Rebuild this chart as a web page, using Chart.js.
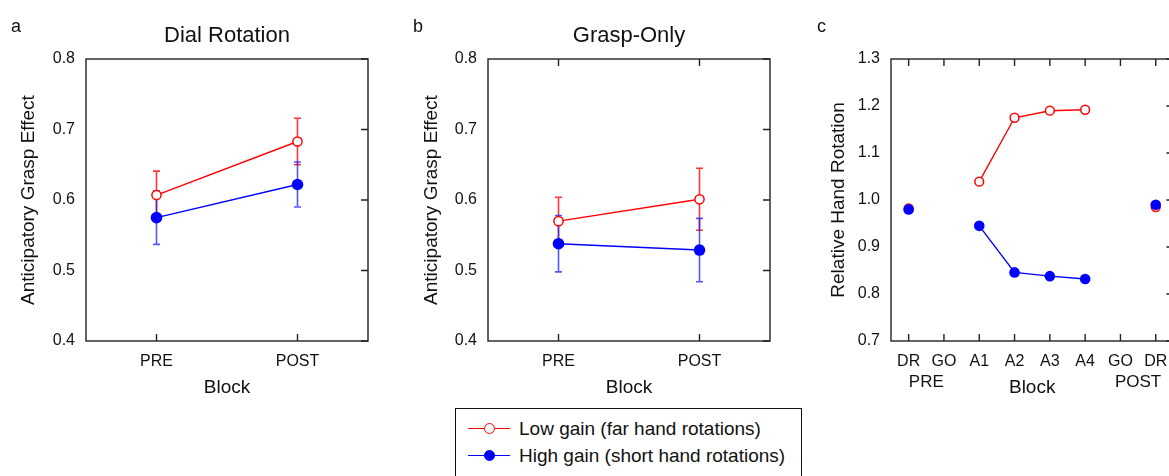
<!DOCTYPE html>
<html>
<head>
<meta charset="utf-8">
<script src="https://cdn.jsdelivr.net/npm/chart.js@4.4.1/dist/chart.umd.min.js"></script>
<style>
  html, body { margin: 0; padding: 0; background: #fff; }
  body { width: 1169px; height: 476px; overflow: hidden; position: relative;
         font-family: "Liberation Sans", Arial, sans-serif; color: #111; }
  canvas { position: absolute; top: 0; }
  #legend { position: absolute; left: 455px; top: 408px; width: 347px; height: 90px;
            border: 1.3px solid #111; background: #fff; box-sizing: border-box; }
  #legend .row { position: absolute; left: 0; height: 27px; line-height: 27px; font-size: 19px; white-space: nowrap; }
  #legend .sym { position: absolute; left: 12px; top: 0; width: 42px; height: 27px; }
  #legend .sym .ln { position: absolute; left: 0; right: 0; top: 13px; height: 1.4px; }
  #legend .sym .pt { position: absolute; border-radius: 50%; box-sizing: border-box; }
  #legend .txt { position: absolute; left: 63px; top: 0; }
</style>
</head>
<body>
<canvas id="chartA" width="400" height="410" style="left:0px"></canvas>
<canvas id="chartB" width="400" height="410" style="left:400px"></canvas>
<canvas id="chartC" width="400" height="410" style="left:810px"></canvas>
<div id="legend"></div>
<script>
// ---- data ----
const seriesNames = ['Low gain (far hand rotations)', 'High gain (short hand rotations)'];

const blocksAB = ['PRE', 'POST'];
const ticksAB = [0.4, 0.5, 0.6, 0.7, 0.8];

// panel a: Dial Rotation (mean, +/- error)
const dialLow = [0.607, 0.683];
const dialLowErr = [0.034, 0.033];
const dialHigh = [0.575, 0.622];
const dialHighErr = [0.038, 0.032];

// panel b: Grasp-Only
const graspLow = [0.570, 0.601];
const graspLowErr = [0.034, 0.044];
const graspHigh = [0.538, 0.529];
const graspHighErr = [0.040, 0.045];

// panel c: relative hand rotation per block
const blocksC = ['DR', 'GO', 'A1', 'A2', 'A3', 'A4', 'GO', 'DR'];
const blockGroups = ['PRE', 'POST'];
const blockGroupSpans = [[0, 1], [6, 7]];
const ticksC = [0.7, 0.8, 0.9, 1.0, 1.1, 1.2, 1.3];
const rotLow = [0.982, null, 1.039, 1.175, 1.190, 1.192, null, 0.985];
const rotHigh = [0.980, null, 0.945, 0.846, 0.838, 0.832, null, 0.990];

const RED = '#ff0000';
const BLUE = '#0000ff';
const INK = '#111';

// error bars, drawn under the points
const errorBars = {
    id: 'errorBars',
    beforeDatasetsDraw(chart) {
        const ctx = chart.ctx;
        const y = chart.scales.y;
        // red first, blue on top
        [...chart.data.datasets.keys()].sort((a, b) => chart.data.datasets[b].order - chart.data.datasets[a].order).forEach(i => {
            const ds = chart.data.datasets[i];
            if (!ds.errors) return;
            const meta = chart.getDatasetMeta(i);
            ctx.save();
            ctx.strokeStyle = ds.errColor;
            ctx.lineWidth = 1.6;
            ds.data.forEach((v, j) => {
                if (v == null) return;
                const px = meta.data[j].x;
                const top = y.getPixelForValue(v + ds.errors[j]);
                const bot = y.getPixelForValue(v - ds.errors[j]);
                ctx.beginPath();
                ctx.moveTo(px, top); ctx.lineTo(px, bot);
                ctx.moveTo(px - 3.5, top); ctx.lineTo(px + 3.5, top);
                ctx.moveTo(px - 3.5, bot); ctx.lineTo(px + 3.5, bot);
                ctx.stroke();
            });
            ctx.restore();
        });
    }
};

// box around the plot, inward tick marks, panel letter / title / group labels
const frame = {
    id: 'frame',
    afterDraw(chart, args, opts) {
        const ctx = chart.ctx;
        const a = chart.chartArea;
        const x = chart.scales.x, y = chart.scales.y;
        ctx.save();
        ctx.strokeStyle = '#222';
        ctx.lineWidth = 1.4;
        ctx.beginPath();
        x.ticks.forEach((t, i) => {
            const px = x.getPixelForTick(i);
            ctx.moveTo(px, a.bottom); ctx.lineTo(px, a.bottom - 7);
            if (opts.topTicks) { ctx.moveTo(px, a.top); ctx.lineTo(px, a.top + 7); }
        });
        y.ticks.forEach((t, i) => {
            const py = y.getPixelForTick(i);
            ctx.moveTo(a.right, py); ctx.lineTo(a.right - 7, py);
        });
        ctx.stroke();
        ctx.strokeRect(a.left, a.top, a.right - a.left, a.bottom - a.top);

        ctx.fillStyle = INK;
        ctx.textBaseline = 'alphabetic';
        ctx.textAlign = 'left';
        ctx.font = '18px "Liberation Sans", Arial, sans-serif';
        ctx.fillText(opts.letter, opts.letterX, 32);
        if (opts.title) {
            ctx.textAlign = 'center';
            ctx.font = '22px "Liberation Sans", Arial, sans-serif';
            ctx.fillText(opts.title, (a.left + a.right) / 2, 41.5);
        }
        if (opts.groups) {
            ctx.textAlign = 'center';
            ctx.textBaseline = 'middle';
            ctx.font = '17px "Liberation Sans", Arial, sans-serif';
            opts.groups.forEach((g, k) => {
                const [i0, i1] = blockGroupSpans[k];
                const px = (x.getPixelForTick(i0) + x.getPixelForTick(i1)) / 2;
                ctx.fillText(g, px, 382);
            });
        }
        ctx.restore();
    }
};

function lowSet(data, err, r) {
    return {
        label: seriesNames[0], data: data, errors: err, order: 2,
        borderColor: RED, borderWidth: 1.4, errColor: 'rgba(255,20,20,0.85)',
        pointRadius: r, pointBackgroundColor: '#fff', pointBorderColor: RED, pointBorderWidth: 1.5,
        spanGaps: false, tension: 0
    };
}

function highSet(data, err, r) {
    return {
        label: seriesNames[1], data: data, errors: err, order: 1,
        borderColor: BLUE, borderWidth: 1.4, errColor: 'rgba(30,30,255,0.75)',
        pointRadius: r, pointBackgroundColor: BLUE, pointBorderColor: BLUE, pointBorderWidth: 0,
        spanGaps: false, tension: 0
    };
}

function makeChart(id, labels, datasets, yTicks, yTitle, box, extra) {
    return new Chart(document.getElementById(id), {
        type: 'line',
        data: { labels: labels, datasets: datasets },
        options: {
            responsive: false,
            animation: false,
            events: [],
            layout: { padding: { left: 10, right: box.right, top: 59, bottom: 9 } },
            plugins: {
                legend: { display: false },
                tooltip: { enabled: false },
                frame: extra
            },
            scales: {
                x: {
                    type: 'category', offset: true,
                    grid: { display: false, drawTicks: false },
                    border: { display: false },
                    ticks: { color: INK, font: { size: 16 }, padding: 11, maxRotation: 0, autoSkip: false },
                    title: { display: true, text: 'Block', color: INK, font: { size: 19 }, padding: { top: 0, bottom: 2 } },
                    afterFit: s => { s.height = 60; }
                },
                y: {
                    min: yTicks[0], max: yTicks[yTicks.length - 1],
                    grid: { display: false, drawTicks: false },
                    border: { display: false },
                    afterBuildTicks: s => { s.ticks = yTicks.map(v => ({ value: v })); },
                    ticks: { color: INK, font: { size: 16 }, padding: 11, callback: v => v.toFixed(1) },
                    title: { display: true, text: yTitle, color: INK, font: { size: 19 }, padding: { top: box.titlePad, bottom: 0 } },
                    afterFit: s => { s.width = box.yWidth; }
                }
            }
        },
        plugins: [errorBars, frame]
    });
}

makeChart('chartA', blocksAB,
    [lowSet(dialLow, dialLowErr, 4.6), highSet(dialHigh, dialHighErr, 5.8)],
    ticksAB, 'Anticipatory Grasp Effect',
    { right: 32, yWidth: 76, titlePad: 7 },
    { letter: 'a', letterX: 11, title: 'Dial Rotation', topTicks: false });

makeChart('chartB', blocksAB,
    [lowSet(graspLow, graspLowErr, 4.6), highSet(graspHigh, graspHighErr, 5.8)],
    ticksAB, 'Anticipatory Grasp Effect',
    { right: 30, yWidth: 78, titlePad: 10 },
    { letter: 'b', letterX: 13, title: 'Grasp-Only', topTicks: true });

makeChart('chartC', blocksC,
    [lowSet(rotLow, null, 4.4), highSet(rotHigh, null, 5.3)],
    ticksC, 'Relative Hand Rotation',
    { right: 36.6, yWidth: 71, titlePad: 7.6 },
    { letter: 'c', letterX: 7, title: null, topTicks: true, groups: blockGroups });

// legend
const legend = document.getElementById('legend');
[{ c: RED, fill: '#fff', size: 11 }, { c: BLUE, fill: BLUE, size: 11 }].forEach((s, i) => {
    const row = document.createElement('div');
    row.className = 'row';
    row.style.top = (6 + i * 27) + 'px';
    const sym = document.createElement('span');
    sym.className = 'sym';
    const ln = document.createElement('span');
    ln.className = 'ln';
    ln.style.background = s.c;
    const pt = document.createElement('span');
    pt.className = 'pt';
    pt.style.width = s.size + 'px';
    pt.style.height = s.size + 'px';
    pt.style.left = (21 - s.size / 2) + 'px';
    pt.style.top = (13.7 - s.size / 2) + 'px';
    pt.style.background = s.fill;
    pt.style.border = '1.5px solid ' + s.c;
    sym.appendChild(ln);
    sym.appendChild(pt);
    const txt = document.createElement('span');
    txt.className = 'txt';
    txt.textContent = seriesNames[i];
    row.appendChild(sym);
    row.appendChild(txt);
    legend.appendChild(row);
});
</script>
</body>
</html>
